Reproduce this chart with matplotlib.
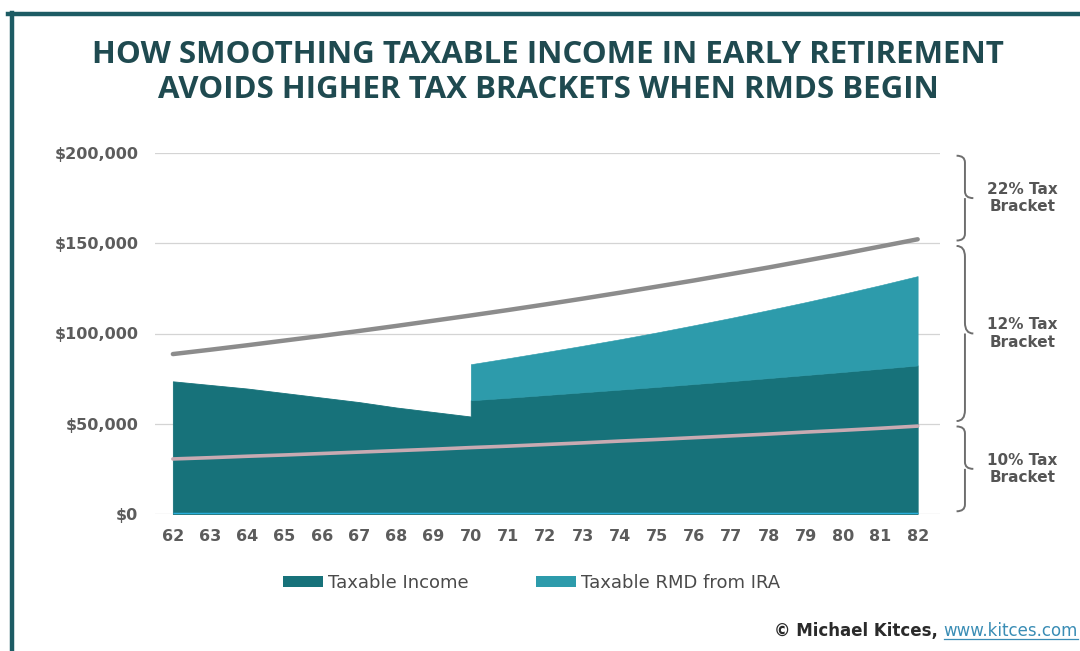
import matplotlib
matplotlib.use("Agg")
import matplotlib.pyplot as plt
from matplotlib.patches import Patch, PathPatch
from matplotlib.lines import Line2D
from matplotlib.path import Path

# ---- data ----
ages = list(range(62, 83))
age_labels = [str(a) for a in ages]

# taxable income before RMDs begin (ages 62-70)
ages_pre = list(range(62, 71))
income_pre = [73500, 71500, 69500, 67000, 64500, 62000, 59000, 56500, 54000]

# taxable income and RMD once RMDs begin (ages 70-82)
ages_post = list(range(70, 83))
income_post = [63000, 64400, 65900, 67400, 68900, 70400, 72000, 73600, 75300,
               77000, 78700, 80500, 82300]
rmd_post = [20000, 21900, 23800, 25800, 27900, 30200, 32600, 35100, 37700,
            40400, 43300, 46300, 49500]

# bracket thresholds
top_12_bracket = [88600, 91000, 93500, 96100, 98700, 101400, 104200, 107100,
                  110000, 113000, 116100, 119300, 122600, 126000, 129400,
                  133000, 136600, 140400, 144200, 148200, 152200]
top_10_bracket = [30500, 31200, 32000, 32700, 33500, 34300, 35100, 35900,
                  36800, 37600, 38500, 39400, 40400, 41300, 42300, 43300,
                  44300, 45400, 46400, 47500, 48700]

y_ticks = [0, 50000, 100000, 150000, 200000]
y_labels = ["$0", "$50,000", "$100,000", "$150,000", "$200,000"]

brackets = [("22% Tax\nBracket", 150000, 200000),
            ("12% Tax\nBracket", 50000, 150000),
            ("10% Tax\nBracket", 0, 50000)]

# ---- style ----
DARK = "#17727a"
LIGHT = "#2d9bab"
BASE = "#29aedb"
FRAME = "#1d5c64"
TITLE = "#1f4a50"
TICK = "#5c5c5c"
plt.rcParams["font.family"] = ["DejaVu Sans"]

W, H = 1080, 651
fig = plt.figure(figsize=(W / 100, H / 100), dpi=100)
fig.patch.set_facecolor("white")

ax = fig.add_axes([155 / W, (H - 514) / H, (940 - 155) / W, (514 - 153) / H])
ax.set_xlim(61.52, 82.6)
ax.set_ylim(0, 200000)

for t in y_ticks:
    ax.axhline(t, color="#d4d4d4", lw=0.9, zorder=0)

# taxable income as one continuous area with a step where RMDs begin
income_x = ages_pre + ages_post
income_y = income_pre + income_post
ax.fill_between(income_x, 0, income_y, facecolor=DARK, edgecolor=DARK,
                lw=0.6, zorder=2)
total_post = [i + r for i, r in zip(income_post, rmd_post)]
ax.fill_between(ages_post, income_post, total_post, facecolor=LIGHT,
                edgecolor=LIGHT, lw=0.4, zorder=2)
ax.plot([ages[0], ages[-1]], [0, 0], color=BASE, lw=2.5, zorder=3,
        solid_capstyle="butt")

ax.plot(ages, top_12_bracket, color="#8c8c8c", lw=3.2, zorder=4,
        solid_capstyle="round")
ax.plot(ages, top_10_bracket, color="#c8aab2", lw=2.6, zorder=4,
        solid_capstyle="round")

ax.set_xticks(ages)
ax.set_xticklabels(age_labels)
ax.set_yticks(y_ticks)
ax.set_yticklabels(y_labels)
ax.tick_params(length=0, colors=TICK, labelsize=11.5)
for lab in ax.get_xticklabels() + ax.get_yticklabels():
    lab.set_fontweight("bold")
ax.tick_params(axis="y", pad=12)
ax.tick_params(axis="x", pad=11)
for s in ax.spines.values():
    s.set_visible(False)

# curly braces for tax brackets
def brace(ax, y0, y1, x, width):
    ym = (y0 + y1) / 2
    h = y1 - y0
    r = min(h * 0.08, 6000)
    verts = [
        (x - width * 0.5, y1), (x, y1), (x, y1 - r),
        (x, ym + r),
        (x, ym), (x + width * 0.5, ym),
        (x, ym), (x, ym - r),
        (x, y0 + r),
        (x, y0), (x - width * 0.5, y0),
    ]
    codes = [Path.MOVETO, Path.CURVE3, Path.CURVE3,
             Path.LINETO,
             Path.CURVE3, Path.CURVE3,
             Path.MOVETO, Path.CURVE3,
             Path.LINETO,
             Path.CURVE3, Path.CURVE3]
    p = PathPatch(Path(verts, codes), fill=False, edgecolor="#6e6e6e", lw=1.4,
                  transform=ax.transData, clip_on=False)
    ax.add_patch(p)

brace_x = 83.27
for label, lo, hi in brackets:
    brace(ax, lo + 1500, hi - 1500, brace_x, 0.45)
    ax.text(84.82, (lo + hi) / 2, label, ha="center", va="center",
            fontsize=11, color="#555555", fontweight="bold",
            linespacing=1.2, clip_on=False)

# title
for txt, y in [("HOW SMOOTHING TAXABLE INCOME IN EARLY RETIREMENT", 55),
               ("AVOIDS HIGHER TAX BRACKETS WHEN RMDS BEGIN", 90)]:
    fig.text(548 / W, 1 - y / H, txt, ha="center", va="center",
             fontsize=22.5, fontweight="bold", color=TITLE,
             family=["Open Sans", "DejaVu Sans"])

# legend
handles = [Patch(facecolor=DARK, edgecolor="none"),
           Patch(facecolor=LIGHT, edgecolor="none")]
fig.legend(handles, ["Taxable Income", "Taxable RMD from IRA"],
           loc="center left", bbox_to_anchor=(267 / W, 1 - 583 / H), ncol=2,
           frameon=False, fontsize=13, handlelength=2.2, handleheight=0.5,
           columnspacing=3.7, handletextpad=0.3, labelcolor="#4a4a4a")

# credit line
t1 = fig.text(1078 / W, 1 - 631 / H, "www.kitces.com", ha="right", va="center",
              fontsize=12, color="#3a8db5")
fig.canvas.draw()
bb = t1.get_window_extent()
fig.text(bb.x0 / W, 1 - 631 / H, "© Michael Kitces, ", ha="right", va="center",
         fontsize=12, color="#2a2a2a", fontweight="bold")
fig.add_artist(Line2D([bb.x0 / W, bb.x1 / W], [(bb.y0 + 1) / H, (bb.y0 + 1) / H],
                      color="#3a8db5", lw=0.9))

# frame
fig.add_artist(Line2D([8 / W, 1.0], [1 - 14 / H, 1 - 14 / H], color=FRAME, lw=3.2))
fig.add_artist(Line2D([12 / W, 12 / W], [0, 1 - 13 / H], color=FRAME, lw=3.2))

fig.savefig("out.png", dpi=100, facecolor="white")
